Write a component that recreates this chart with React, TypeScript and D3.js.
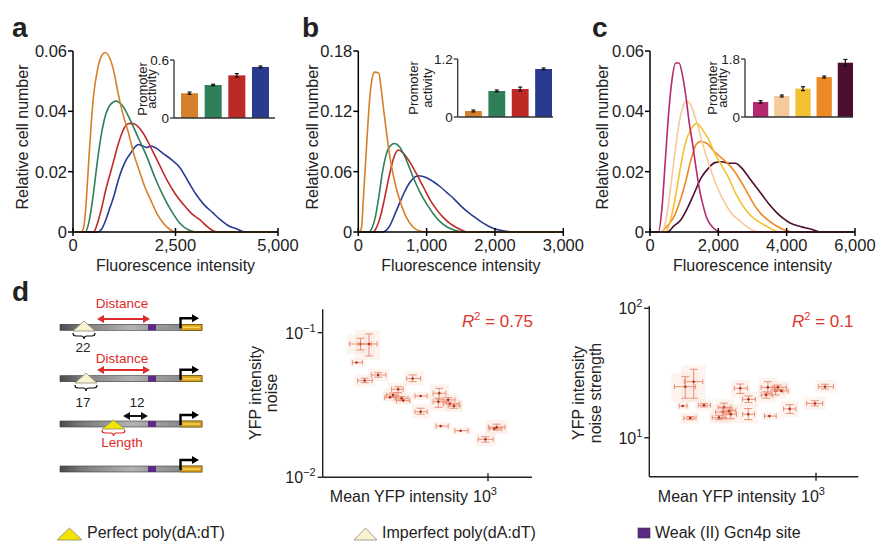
import React from "react";
import * as d3 from "d3";

const FONT = "'Liberation Sans', Arial, Helvetica, sans-serif";

type Pt = [number, number];

// ---------- Panel a ----------
const aXTicks = [0, 2500, 5000];
const aYTicks = [0, 0.02, 0.04, 0.06];
const aColors = ["#d5802a", "#2f7f59", "#bd2a26", "#2a3a8f"];
const aOrange: Pt[] = [[0,0],[200,0],[250,0.001],[300,0.006],[350,0.016],[400,0.027],[450,0.037],[500,0.045],[600,0.054],[700,0.0585],[790,0.0595],[900,0.0575],[1000,0.053],[1100,0.046],[1200,0.04],[1350,0.033],[1500,0.025],[1600,0.021],[1750,0.015],[1900,0.0105],[2050,0.006],[2200,0.003],[2350,0.001],[2500,0],[5000,0]];
const aGreen: Pt[] = [[0,0],[300,0],[400,0.004],[500,0.013],[600,0.024],[700,0.033],[800,0.039],[900,0.042],[1050,0.0434],[1200,0.042],[1400,0.037],[1600,0.031],[1800,0.025],[2000,0.018],[2200,0.012],[2400,0.007],[2600,0.003],[2850,0.0005],[3000,0],[5000,0]];
const aRed: Pt[] = [[0,0],[500,0],[600,0.003],[700,0.008],[800,0.014],[900,0.019],[1000,0.024],[1100,0.029],[1200,0.033],[1300,0.0355],[1400,0.036],[1500,0.0358],[1700,0.033],[1900,0.028],[2100,0.0225],[2300,0.017],[2500,0.0125],[2700,0.009],[2900,0.006],[3100,0.004],[3300,0.0015],[3500,0],[5000,0]];
const aBlue: Pt[] = [[0,0],[600,0],[700,0.001],[800,0.004],[900,0.008],[1000,0.012],[1100,0.017],[1200,0.021],[1300,0.024],[1400,0.026],[1500,0.028],[1600,0.029],[1700,0.0285],[1800,0.028],[1900,0.0285],[2000,0.028],[2200,0.026],[2400,0.024],[2600,0.0215],[2800,0.017],[3000,0.0125],[3200,0.009],[3400,0.0065],[3600,0.004],[3800,0.002],[4000,0.001],[4200,0],[5000,0]];
const aBars = [0.256, 0.341, 0.441, 0.528];
const aBarErr = [0.012, 0.008, 0.018, 0.01];
const aInsetTicks = [0, 0.6];

// ---------- Panel b ----------
const bXTicks = [0, 1000, 2000, 3000];
const bYTicks = [0, 0.06, 0.12, 0.18];
const bColors = aColors;
const bOrange: Pt[] = [[0,0],[30,0.001],[50,0.006],[73,0.032],[100,0.062],[132,0.098],[170,0.135],[210,0.155],[240,0.159],[300,0.158],[330,0.145],[370,0.122],[415,0.098],[450,0.08],[490,0.064],[550,0.045],[610,0.031],[700,0.015],[800,0.005],[900,0.001],[1000,0],[3000,0]];
const bGreen: Pt[] = [[0,0],[150,0],[200,0.004],[250,0.015],[300,0.035],[350,0.058],[400,0.075],[450,0.084],[530,0.088],[600,0.085],[700,0.072],[800,0.055],[900,0.04],[1000,0.028],[1100,0.018],[1200,0.01],[1300,0.005],[1400,0.002],[1550,0],[3000,0]];
const bRed: Pt[] = [[0,0],[220,0],[270,0.005],[330,0.017],[380,0.032],[450,0.055],[520,0.074],[585,0.0815],[650,0.079],[750,0.07],[850,0.058],[950,0.045],[1050,0.032],[1150,0.022],[1250,0.014],[1350,0.008],[1450,0.004],[1600,0],[3000,0]];
const bBlue: Pt[] = [[0,0],[350,0],[450,0.005],[550,0.02],[650,0.036],[750,0.049],[880,0.056],[1000,0.054],[1100,0.05],[1200,0.045],[1300,0.039],[1400,0.033],[1500,0.026],[1600,0.02],[1700,0.015],[1800,0.01],[1900,0.006],[2000,0.003],[2100,0.0015],[2300,0],[3000,0]];
const bBars = [0.124, 0.538, 0.579, 0.993];
const bBarErr = [0.02, 0.02, 0.04, 0.02];
const bInsetTicks = [0, 1.2];

// ---------- Panel c ----------
const cXTicks = [0, 2000, 4000, 6000];
const cYTicks = [0, 0.02, 0.04, 0.06];
const cColors = ["#b5296f", "#f7c89b", "#f3c12f", "#ee8a24", "#4b0e2f"];
const cPink: Pt[] = [[0,0],[250,0],[350,0.008],[450,0.024],[550,0.04],[650,0.051],[750,0.056],[850,0.056],[950,0.052],[1050,0.045],[1150,0.036],[1250,0.029],[1350,0.021],[1450,0.014],[1550,0.009],[1650,0.005],[1800,0.002],[2100,0],[6000,0]];
const cPeach: Pt[] = [[0,0],[350,0],[450,0.003],[550,0.01],[650,0.019],[750,0.028],[850,0.036],[950,0.041],[1070,0.0434],[1200,0.042],[1350,0.037],[1500,0.031],[1650,0.025],[1800,0.02],[2000,0.014],[2200,0.0095],[2400,0.006],[2600,0.004],[2800,0.002],[3200,0],[6000,0]];
const cYellow: Pt[] = [[0,0],[450,0],[600,0.004],[750,0.012],[900,0.022],[1050,0.03],[1200,0.034],[1370,0.036],[1500,0.0345],[1700,0.031],[1900,0.026],[2100,0.022],[2300,0.018],[2500,0.013],[2700,0.009],[2900,0.006],[3100,0.004],[3400,0.002],[3800,0],[6000,0]];
const cOrange: Pt[] = [[0,0],[300,0],[500,0.002],[700,0.005],[900,0.011],[1050,0.017],[1200,0.024],[1350,0.029],[1480,0.03],[1650,0.0295],[1850,0.027],[2050,0.025],[2250,0.023],[2450,0.0205],[2650,0.017],[2850,0.013],[3050,0.009],[3250,0.006],[3450,0.004],[3700,0.002],[4200,0],[6000,0]];
const cDark: Pt[] = [[0,0],[500,0],[700,0.002],[900,0.004],[1100,0.008],[1300,0.013],[1500,0.018],[1700,0.021],[1900,0.023],[2100,0.0233],[2300,0.0228],[2500,0.0228],[2700,0.021],[2900,0.018],[3100,0.015],[3300,0.012],[3500,0.009],[3700,0.0065],[3900,0.0045],[4100,0.003],[4400,0.0018],[4700,0.001],[5000,0],[6000,0]];
const cBars = [0.466, 0.652, 0.88, 1.24, 1.685];
const cBarErr = [0.04, 0.03, 0.06, 0.03, 0.1];
const cInsetTicks = [0, 1.8];

// ---------- Panel d scatter ----------
// [mean, value, meanLo, meanHi, valueLo, valueHi]
const noisePts: number[][] = [
  [289, 0.0835, 260, 321, 0.0759, 0.0914],
  [314, 0.0835, 282, 340, 0.069, 0.098],
  [278, 0.0621, 267, 294, 0.0621, 0.0621],
  [301, 0.0466, 281, 324, 0.0451, 0.0484],
  [343, 0.051, 321, 370, 0.0492, 0.0529],
  [480, 0.0481, 453, 519, 0.0458, 0.051],
  [417, 0.0406, 391, 438, 0.0385, 0.0423],
  [397, 0.0371, 372, 417, 0.036, 0.0383],
  [385, 0.0357, 366, 410, 0.0357, 0.0357],
  [431, 0.0352, 404, 459, 0.0343, 0.0362],
  [438, 0.0339, 410, 467, 0.0339, 0.0339],
  [519, 0.0365, 491, 553, 0.0365, 0.0365],
  [519, 0.0284, 491, 553, 0.0273, 0.03],
  [622, 0.0381, 586, 664, 0.0343, 0.0412],
  [617, 0.0333, 586, 668, 0.0305, 0.0352],
  [679, 0.0343, 647, 725, 0.0331, 0.0356],
  [690, 0.0322, 647, 756, 0.0322, 0.0322],
  [718, 0.0311, 679, 761, 0.03, 0.0322],
  [631, 0.0226, 603, 679, 0.0226, 0.0226],
  [766, 0.021, 725, 824, 0.021, 0.021],
  [975, 0.0183, 910, 1052, 0.0175, 0.0191],
  [1089, 0.0222, 1003, 1180, 0.0212, 0.0233],
  [1064, 0.0217, 1013, 1143, 0.0217, 0.0217],
];
const strengthPts: number[][] = [
  [283, 24.8, 255, 312, 20.2, 29.6],
  [307, 27.1, 281, 335, 20.2, 33.8],
  [276, 17.6, 267, 288, 17.6, 17.6],
  [297, 14.2, 279, 314, 13.8, 14.6],
  [339, 17.8, 321, 361, 17.3, 18.4],
  [392, 14.3, 367, 419, 13.8, 14.9],
  [411, 17.2, 389, 439, 15.9, 18.5],
  [407, 15.8, 379, 439, 14.1, 17.0],
  [432, 16.1, 405, 461, 15.3, 17.0],
  [439, 15.2, 411, 464, 14.0, 16.4],
  [481, 24.1, 454, 515, 22.0, 26.0],
  [521, 19.8, 492, 557, 18.7, 21.0],
  [520, 15.2, 492, 552, 13.8, 16.8],
  [628, 24.5, 589, 670, 22.0, 27.1],
  [618, 21.4, 589, 655, 20.2, 22.6],
  [638, 14.7, 608, 681, 14.7, 14.7],
  [677, 23.0, 649, 727, 21.4, 24.6],
  [692, 24.5, 659, 751, 23.6, 25.5],
  [716, 23.0, 677, 764, 23.0, 23.0],
  [776, 16.7, 731, 823, 15.4, 18.0],
  [990, 18.4, 913, 1067, 17.6, 19.3],
  [1091, 24.8, 1023, 1183, 23.8, 25.9],
];
const noiseYTicks = [0.01, 0.1];
const noiseYExp = ["−2", "−1"];
const strengthYTicks = [10, 100];
const strengthYExp = ["1", "2"];
const meanXTicks = [1000];
const meanXExp = ["3"];

const legendLabels = ["Perfect poly(dA:dT)", "Imperfect poly(dA:dT)", "Weak (II) Gcn4p site"];

const fmtX = d3.format(",");
const fmtY = (v: number) => (v === 0 ? "0" : v.toFixed(2));
const fmtInset = (v: number) => (v === 0 ? "0" : v.toFixed(1));

function HistPanel(p: any) {
  const x = d3.scaleLinear().domain([0, p.xMax]).range([p.x0, p.x1]);
  const y = d3.scaleLinear().domain([0, p.yMax]).range([232, 51]);
  const line = d3.line<Pt>().x((d) => x(d[0])).y((d) => y(d[1])).curve(d3.curveMonotoneX);
  const bx = d3.scaleBand<number>().domain(p.bars.map((_: number, i: number) => i)).range([p.barL, p.barR]).paddingInner(0.28);
  const by = d3.scaleLinear().domain([0, p.insetMax]).range([p.insetBottom, p.insetTop]);
  const midY = (p.insetBottom + p.insetTop) / 2;
  const order: number[] = p.drawOrder;
  return (
    <g>
      <text x={p.letterX} y={37} fontSize={28} fontWeight="bold">{p.letter}</text>
      {order.map((i) => (
        <path key={i} d={line(p.curves[i]) || ""} fill="none" stroke={p.colors[i]} strokeWidth={1.6} />
      ))}
      {/* axes */}
      <line x1={p.x0} x2={p.x0} y1={51} y2={232} stroke="#000" strokeWidth={1.5} />
      <line x1={p.x0} x2={p.x1} y1={232} y2={232} stroke="#000" strokeWidth={1.5} />
      {p.yTicks.map((t: number) => (
        <g key={"y" + t}>
          <line x1={p.x0 - 5} x2={p.x0} y1={y(t)} y2={y(t)} stroke="#000" strokeWidth={1.5} />
          <text x={p.x0 - 6} y={y(t)} fontSize={16.5} textAnchor="end" dominantBaseline="central">{fmtY(t)}</text>
        </g>
      ))}
      {p.xTicks.map((t: number) => (
        <g key={"x" + t}>
          <line x1={x(t)} x2={x(t)} y1={228} y2={236} stroke="#000" strokeWidth={1.5} />
          <text x={x(t)} y={251} fontSize={16.5} textAnchor="middle">{fmtX(t)}</text>
        </g>
      ))}
      <text x={(p.x0 + p.x1) / 2} y={271} fontSize={16} textAnchor="middle">Fluorescence intensity</text>
      <text transform={`translate(${p.yTitleX},137) rotate(-90)`} fontSize={16} textAnchor="middle" dominantBaseline="central">Relative cell number</text>
      {/* inset */}
      {p.bars.map((v: number, i: number) => {
        const cx = bx(i)! + bx.bandwidth() / 2;
        return (
          <g key={"b" + i}>
            <rect x={bx(i)} y={by(v)} width={bx.bandwidth()} height={by(0) - by(v)} fill={p.colors[i]} />
            <line x1={cx} x2={cx} y1={by(v - p.barErr[i])} y2={by(v + p.barErr[i])} stroke="#111" strokeWidth={1.2} />
            <line x1={cx - 2} x2={cx + 2} y1={by(v - p.barErr[i])} y2={by(v - p.barErr[i])} stroke="#111" strokeWidth={1.2} />
            <line x1={cx - 2} x2={cx + 2} y1={by(v + p.barErr[i])} y2={by(v + p.barErr[i])} stroke="#111" strokeWidth={1.2} />
          </g>
        );
      })}
      <line x1={p.insetAxis} x2={p.insetAxis} y1={p.insetTop} y2={p.insetBottom} stroke="#333" strokeWidth={1.3} />
      <line x1={p.insetAxis} x2={p.insetEnd} y1={p.insetBottom} y2={p.insetBottom} stroke="#333" strokeWidth={1.3} />
      {p.insetTicks.map((t: number) => (
        <g key={"it" + t}>
          <line x1={p.insetAxis - 4} x2={p.insetAxis} y1={by(t)} y2={by(t)} stroke="#333" strokeWidth={1.3} />
          <text x={p.insetAxis - 5} y={by(t)} fontSize={13.5} textAnchor="end" dominantBaseline="central">{fmtInset(t)}</text>
        </g>
      ))}
      <text transform={`translate(${p.insetAxis - p.insetLab[0]},${midY}) rotate(-90)`} fontSize={13} textAnchor="middle" dominantBaseline="central">Promoter</text>
      <text transform={`translate(${p.insetAxis - p.insetLab[1]},${midY}) rotate(-90)`} fontSize={13} textAnchor="middle" dominantBaseline="central">activity</text>
    </g>
  );
}

function Scatter(p: any) {
  const x = d3.scaleLog().domain(p.xDom).range(p.xRange);
  const y = d3.scaleLog().domain(p.yDom).range(p.yRange);
  const ax = p.xRange[0];
  const ay = p.yRange[0];
  return (
    <g>
      {p.pts.map((d: number[], i: number) => (
        <rect key={"bg" + i} x={x(d[2]) - 3} y={y(d[5]) - 4} width={x(d[3]) - x(d[2]) + 6} height={y(d[4]) - y(d[5]) + 8} fill="#fbe4dc" opacity={0.45} />
      ))}
      {p.pts.map((d: number[], i: number) => {
        const cx = x(d[0]);
        const cy = y(d[1]);
        const hasY = d[4] !== d[5];
        return (
          <g key={i} stroke="#e5876c" strokeWidth={0.9}>
            <line x1={x(d[2])} x2={x(d[3])} y1={cy} y2={cy} />
            <line x1={x(d[2])} x2={x(d[2])} y1={cy - 2.5} y2={cy + 2.5} />
            <line x1={x(d[3])} x2={x(d[3])} y1={cy - 2.5} y2={cy + 2.5} />
            {hasY && <line x1={cx} x2={cx} y1={y(d[4])} y2={y(d[5])} />}
            {hasY && <line x1={cx - 4} x2={cx + 4} y1={y(d[4])} y2={y(d[4])} />}
            {hasY && <line x1={cx - 4} x2={cx + 4} y1={y(d[5])} y2={y(d[5])} />}
            <circle cx={cx} cy={cy} r={1.3} fill="#b3301f" stroke="none" />
          </g>
        );
      })}
      <line x1={ax} x2={ax} y1={p.axisTop} y2={ay} stroke="#222" strokeWidth={1.4} />
      <line x1={ax} x2={p.xRange[1]} y1={ay} y2={ay} stroke="#222" strokeWidth={1.4} />
      {p.yTicks.map((t: number, i: number) => (
        <g key={"y" + t}>
          <line x1={ax - 5} x2={ax} y1={y(t)} y2={y(t)} stroke="#222" strokeWidth={1.4} />
          <text x={ax - 7} y={y(t) + 6} fontSize={16} textAnchor="end">10<tspan dy={-7} fontSize={11}>{p.yExp[i]}</tspan></text>
        </g>
      ))}
      {meanXTicks.map((t, i) => (
        <g key={"x" + t}>
          <line x1={x(t)} x2={x(t)} y1={ay - 4} y2={ay + 4} stroke="#222" strokeWidth={1.4} />
          <text x={x(t) - 3} y={502} fontSize={16} textAnchor="middle">10<tspan dy={-7} fontSize={11}>{meanXExp[i]}</tspan></text>
        </g>
      ))}
      <text x={x(1000) - 20} y={502} fontSize={16} textAnchor="end">Mean YFP intensity</text>
      {p.titles.map((s: string, i: number) => (
        <text key={s} transform={`translate(${p.titleX[i]},393) rotate(-90)`} fontSize={16} textAnchor="middle" dominantBaseline="central">{s}</text>
      ))}
      <text x={p.r2x} y={327} fontSize={17} fill="#e0352b">
        <tspan fontStyle="italic">R</tspan>
        <tspan dy={-7} fontSize={11}>2</tspan>
        <tspan dy={7}>{" = " + p.r2}</tspan>
      </text>
    </g>
  );
}

function DoubleArrow({ x1, x2, y, color }: any) {
  return (
    <g fill={color} stroke={color}>
      <line x1={x1 + 5} x2={x2 - 5} y1={y} y2={y} strokeWidth={2} />
      <path d={`M${x1},${y} L${x1 + 7},${y - 4} L${x1 + 7},${y + 4} Z`} stroke="none" />
      <path d={`M${x2},${y} L${x2 - 7},${y - 4} L${x2 - 7},${y + 4} Z`} stroke="none" />
    </g>
  );
}

function Brace({ x1, x2, y, color }: any) {
  const m = (x1 + x2) / 2;
  return (
    <path d={`M${x1},${y} Q${x1},${y + 3} ${x1 + 3},${y + 3} L${m - 3},${y + 3} Q${m},${y + 3} ${m},${y + 6} Q${m},${y + 3} ${m + 3},${y + 3} L${x2 - 3},${y + 3} Q${x2},${y + 3} ${x2},${y}`} fill="none" stroke={color} strokeWidth={1.2} />
  );
}

function Dna({ y }: any) {
  return (
    <g>
      <rect x={60} y={y - 3} width={142} height={6} fill="url(#dnaGrad)" stroke="#3a3a3a" strokeWidth={0.6} />
      <rect x={148} y={y - 3} width={8} height={6} fill="#5b2a86" />
      <rect x={181} y={y - 3} width={21} height={6} fill="#d9a21c" stroke="#6b4a08" strokeWidth={0.6} />
      <line x1={183} x2={200} y1={y} y2={y} stroke="#f6d463" strokeWidth={1.4} />
      <path d={`M180.5,${y + 1} V${y - 9} H193`} fill="none" stroke="#000" strokeWidth={2.4} />
      <path d={`M199,${y - 9} L192,${y - 13} L192,${y - 5} Z`} fill="#000" />
    </g>
  );
}

function Tri({ cx, base, w, h, fill }: any) {
  return <path d={`M${cx - w / 2},${base} L${cx},${base - h} L${cx + w / 2},${base} Z`} fill={fill} stroke="#8a8a7a" strokeWidth={0.8} />;
}

export default function App() {
  return (
    <svg width={876} height={541} style={{ position: "absolute", left: 0, top: 0, background: "#fff" }} fontFamily={FONT} fill="#222">
      <defs>
        <linearGradient id="dnaGrad" x1="0" x2="1" y1="0" y2="0">
          <stop offset="0%" stopColor="#4a4a4a" />
          <stop offset="15%" stopColor="#7a7a7a" />
          <stop offset="50%" stopColor="#b3b3b3" />
          <stop offset="62%" stopColor="#a2a2a2" />
          <stop offset="100%" stopColor="#7c7c7c" />
        </linearGradient>
      </defs>
      <HistPanel letter="a" letterX={12} x0={73} x1={278} xMax={5000} yMax={0.06} xTicks={aXTicks} yTicks={aYTicks}
        curves={[aOrange, aGreen, aRed, aBlue]} colors={aColors} drawOrder={[3, 2, 1, 0]} yTitleX={22}
        bars={aBars} barErr={aBarErr} barL={181} barR={269} insetMax={0.6} insetTop={60} insetBottom={118}
        insetAxis={174} insetEnd={275} insetTicks={aInsetTicks} insetLab={[32, 23]} />
      <HistPanel letter="b" letterX={302} x0={358.3} x1={563.3} xMax={3000} yMax={0.18} xTicks={bXTicks} yTicks={bYTicks}
        curves={[bOrange, bGreen, bRed, bBlue]} colors={bColors} drawOrder={[3, 2, 1, 0]} yTitleX={312}
        bars={bBars} barErr={bBarErr} barL={465} barR={552} insetMax={1.2} insetTop={59} insetBottom={117}
        insetAxis={457.7} insetEnd={553} insetTicks={bInsetTicks} insetLab={[44, 30]} />
      <HistPanel letter="c" letterX={592} x0={650} x1={855} xMax={6000} yMax={0.06} xTicks={cXTicks} yTicks={cYTicks}
        curves={[cPink, cPeach, cYellow, cOrange, cDark]} colors={cColors} drawOrder={[4, 3, 2, 1, 0]} yTitleX={602}
        bars={cBars} barErr={cBarErr} barL={753} barR={853} insetMax={1.8} insetTop={59} insetBottom={117}
        insetAxis={745} insetEnd={853} insetTicks={cInsetTicks} insetLab={[33, 23]} />

      {/* Panel d */}
      <text x={12} y={301} fontSize={28} fontWeight="bold">d</text>
      <Dna y={327.3} />
      <Dna y={378.7} />
      <Dna y={424} />
      <Dna y={469} />
      <Tri cx={84} base={331} w={22} h={10} fill="#fbf3cf" />
      <Brace x1={73} x2={95} y={333} color="#111" />
      <text x={83} y={352} fontSize={13.5} textAnchor="middle">22</text>
      <text x={122} y={308} fontSize={13.5} textAnchor="middle" fill="#e02a2a">Distance</text>
      <DoubleArrow x1={97} x2={150} y={319} color="#de2b2b" />
      <Tri cx={86} base={383} w={22} h={10} fill="#fbf3cf" />
      <Brace x1={75} x2={97} y={385} color="#111" />
      <text x={83} y={407} fontSize={13.5} textAnchor="middle">17</text>
      <text x={122} y={363} fontSize={13.5} textAnchor="middle" fill="#e02a2a">Distance</text>
      <DoubleArrow x1={97} x2={150} y={370} color="#de2b2b" />
      <Tri cx={113.5} base={429} w={23} h={9} fill="#f2e300" />
      <Brace x1={102} x2={125} y={430} color="#e02a2a" />
      <text x={122} y={447} fontSize={13.5} textAnchor="middle" fill="#e02a2a">Length</text>
      <text x={137} y={407} fontSize={13.5} textAnchor="middle">12</text>
      <DoubleArrow x1={123} x2={148} y={416} color="#111" />

      <Scatter pts={noisePts} xDom={[200, 1535]} xRange={[322.7, 532]} yDom={[0.01, 0.145]} yRange={[477.3, 309.3]} axisTop={309.3}
        yTicks={noiseYTicks} yExp={noiseYExp} titles={["YFP intensity", "noise"]} titleX={[255, 271.5]} r2="0.75" r2x={462} />
      <Scatter pts={strengthPts} xDom={[200, 1504]} xRange={[649.3, 858.3]} yDom={[5, 100]} yRange={[476.7, 308.3]} axisTop={306}
        yTicks={strengthYTicks} yExp={strengthYExp} titles={["YFP intensity", "noise strength"]} titleX={[578, 595]} r2="0.1" r2x={792} />

      {/* legend */}
      <Tri cx={69.5} base={540} w={25} h={12} fill="#f2e300" />
      <text x={87} y={538} fontSize={16}>{legendLabels[0]}</text>
      <Tri cx={365.5} base={540} w={23} h={12} fill="#fbf3cf" />
      <text x={382} y={538} fontSize={16}>{legendLabels[1]}</text>
      <rect x={638} y={528} width={12} height={10} fill="#5b2a86" stroke="#333" strokeWidth={0.6} />
      <text x={655} y={538} fontSize={16}>{legendLabels[2]}</text>
    </svg>
  );
}
